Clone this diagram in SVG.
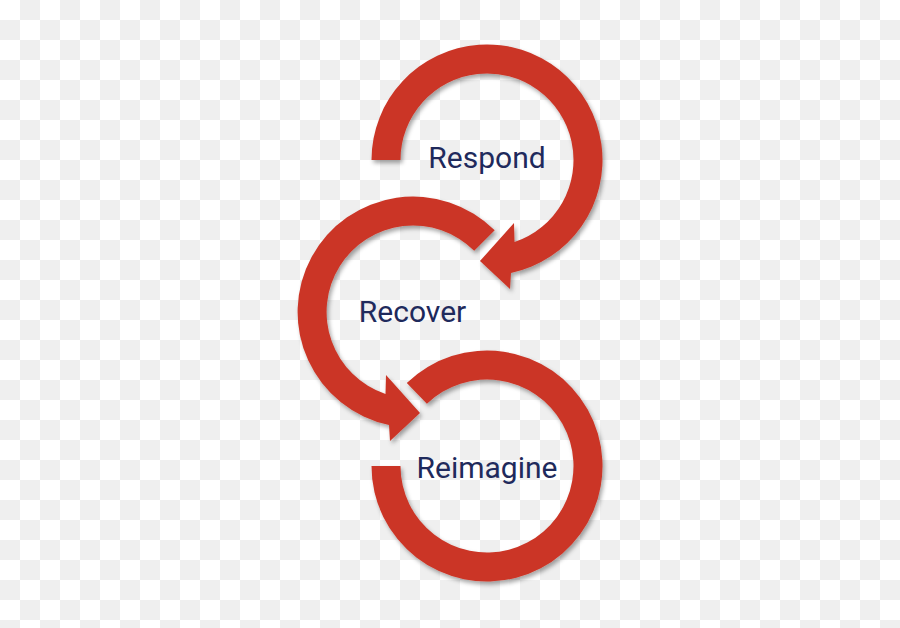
<svg xmlns="http://www.w3.org/2000/svg" width="900" height="628" viewBox="0 0 900 628">
  <defs>
    <pattern id="checker" x="0" y="0" width="40" height="40" patternUnits="userSpaceOnUse">
      <rect x="0" y="0" width="40" height="40" fill="#ffffff"/>
      <rect x="20" y="0" width="20" height="20" fill="#efefef"/>
      <rect x="0" y="20" width="20" height="20" fill="#efefef"/>
    </pattern>
    <filter id="shadow" x="-20%" y="-20%" width="140%" height="140%">
      <feDropShadow dx="2" dy="3" stdDeviation="2" flood-color="#000000" flood-opacity="0.35"/>
    </filter>
    <style>
      .ring { fill: #cb3627; filter: url(#shadow); }
      .label { font-family: Roboto, "Liberation Sans", sans-serif; font-size: 30px; fill: #1f2a5c; text-anchor: middle; }
    </style>
  </defs>
  <rect x="0" y="0" width="900" height="628" fill="url(#checker)"/>
  <g id="connectors">
    <path id="ring-respond" class="ring" d="M 371.5,160 A 115.5 115.5 0 1 1 511,273 L 510,289 L 480,261 L 514,223 L 514.5,242 A 86.5 86.5 0 1 0 400.5,160 Z"/>
    <path id="ring-recover" class="ring" d="M 494.7,230.3 A 115.5 115.5 0 1 0 389,425 L 390,441 L 420,413 L 386,375 L 385.5,394 A 86.5 86.5 0 1 1 474.2,250.8 Z"/>
    <path id="ring-reimagine" class="ring" d="M 371.5,466 A 115.5 115.5 0 1 0 406.8,382.9 L 426.9,403.8 A 86.5 86.5 0 1 1 400.5,466 Z"/>
  </g>
  <g id="node-respond">
    <text class="label" x="487" y="168">Respond</text>
  </g>
  <g id="node-recover">
    <text class="label" x="412.5" y="322">Recover</text>
  </g>
  <g id="node-reimagine">
    <text class="label" x="487" y="478">Reimagine</text>
  </g>
</svg>
